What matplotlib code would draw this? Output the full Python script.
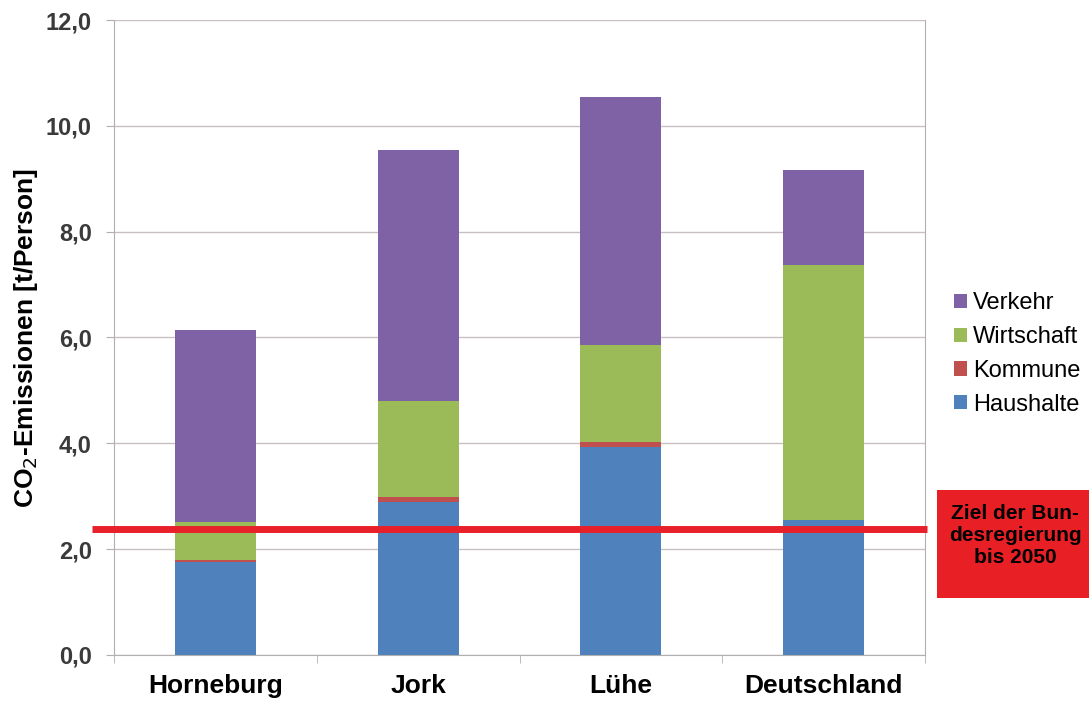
import matplotlib.pyplot as plt
from matplotlib.patches import Rectangle
import numpy as np

plt.rcParams['font.family'] = ['Liberation Sans', 'DejaVu Sans']

orte = ['Horneburg', 'Jork', 'Lühe', 'Deutschland']
haushalte = [1.75, 2.90, 3.93, 2.55]
kommune = [0.05, 0.09, 0.10, 0.0]
wirtschaft = [0.71, 1.81, 1.83, 4.82]
verkehr = [3.63, 4.75, 4.69, 1.80]
ziel = 2.38

farben = {'Haushalte': '#4f81bd', 'Kommune': '#c0504d',
          'Wirtschaft': '#9bbb59', 'Verkehr': '#7f62a6'}

fig = plt.figure(figsize=(10.89, 7.02), dpi=100)
ax = fig.add_axes([0.1047, 0.067, 0.7447, 0.9045])

x = np.arange(len(orte))
w = 0.4
bottom = np.zeros(len(orte))
handles = {}
for name, vals in [('Haushalte', haushalte), ('Kommune', kommune),
                   ('Wirtschaft', wirtschaft), ('Verkehr', verkehr)]:
    handles[name] = ax.bar(x, vals, w, bottom=bottom, color=farben[name], zorder=2)
    bottom += np.array(vals)

ax.set_xlim(-0.5, 3.5)
ax.set_ylim(0, 12)
ticks = np.arange(0, 12.1, 2)
ax.set_yticks(ticks)
ax.set_yticklabels([f'{v:.1f}'.replace('.', ',') for v in ticks],
                   fontsize=17, fontweight='bold', color='#3a3a3a')
ax.set_xticks(x)
ax.set_xticklabels(orte, fontsize=19, fontweight='bold')
ax.set_xticks(np.arange(-0.5, 3.6, 1), minor=True)
ax.tick_params(axis='x', which='major', length=0, pad=14)
ax.tick_params(axis='x', which='minor', length=6, color='#b0b0b0')
ax.tick_params(axis='y', length=6, color='#b0b0b0', pad=10)
ax.grid(axis='y', color='#c8c0c0', linewidth=1, zorder=0)
for s in ['left', 'right', 'bottom']:
    ax.spines[s].set_color('#b0b0b0')
ax.spines['top'].set_visible(False)

ax.set_ylabel('CO$_2$-Emissionen [t/Person]', fontsize=19, fontweight='bold', labelpad=4)

# Ziel-Linie
ax.plot([-0.61, 3.51], [ziel, ziel], color='#e8202a', linewidth=5,
        clip_on=False, zorder=4, solid_capstyle='butt')

ax.legend([handles[n] for n in ['Verkehr', 'Wirtschaft', 'Kommune', 'Haushalte']],
          ['Verkehr', 'Wirtschaft', 'Kommune', 'Haushalte'],
          loc='center left', bbox_to_anchor=(1.01, 0.474), frameon=False,
          fontsize=17, handlelength=0.55, handleheight=0.55, handletextpad=0.25,
          labelspacing=0.5)

fig.patches.append(Rectangle((0.8604, 0.148), 0.1396, 0.154, transform=fig.transFigure,
                             facecolor='#e82025', edgecolor='none'))
fig.text(0.932, 0.237, 'Ziel der Bun-\ndesregierung\nbis 2050', fontsize=15,
         fontweight='bold', ha='center', va='center', linespacing=1.2)

fig.savefig('out.png', dpi=100)
